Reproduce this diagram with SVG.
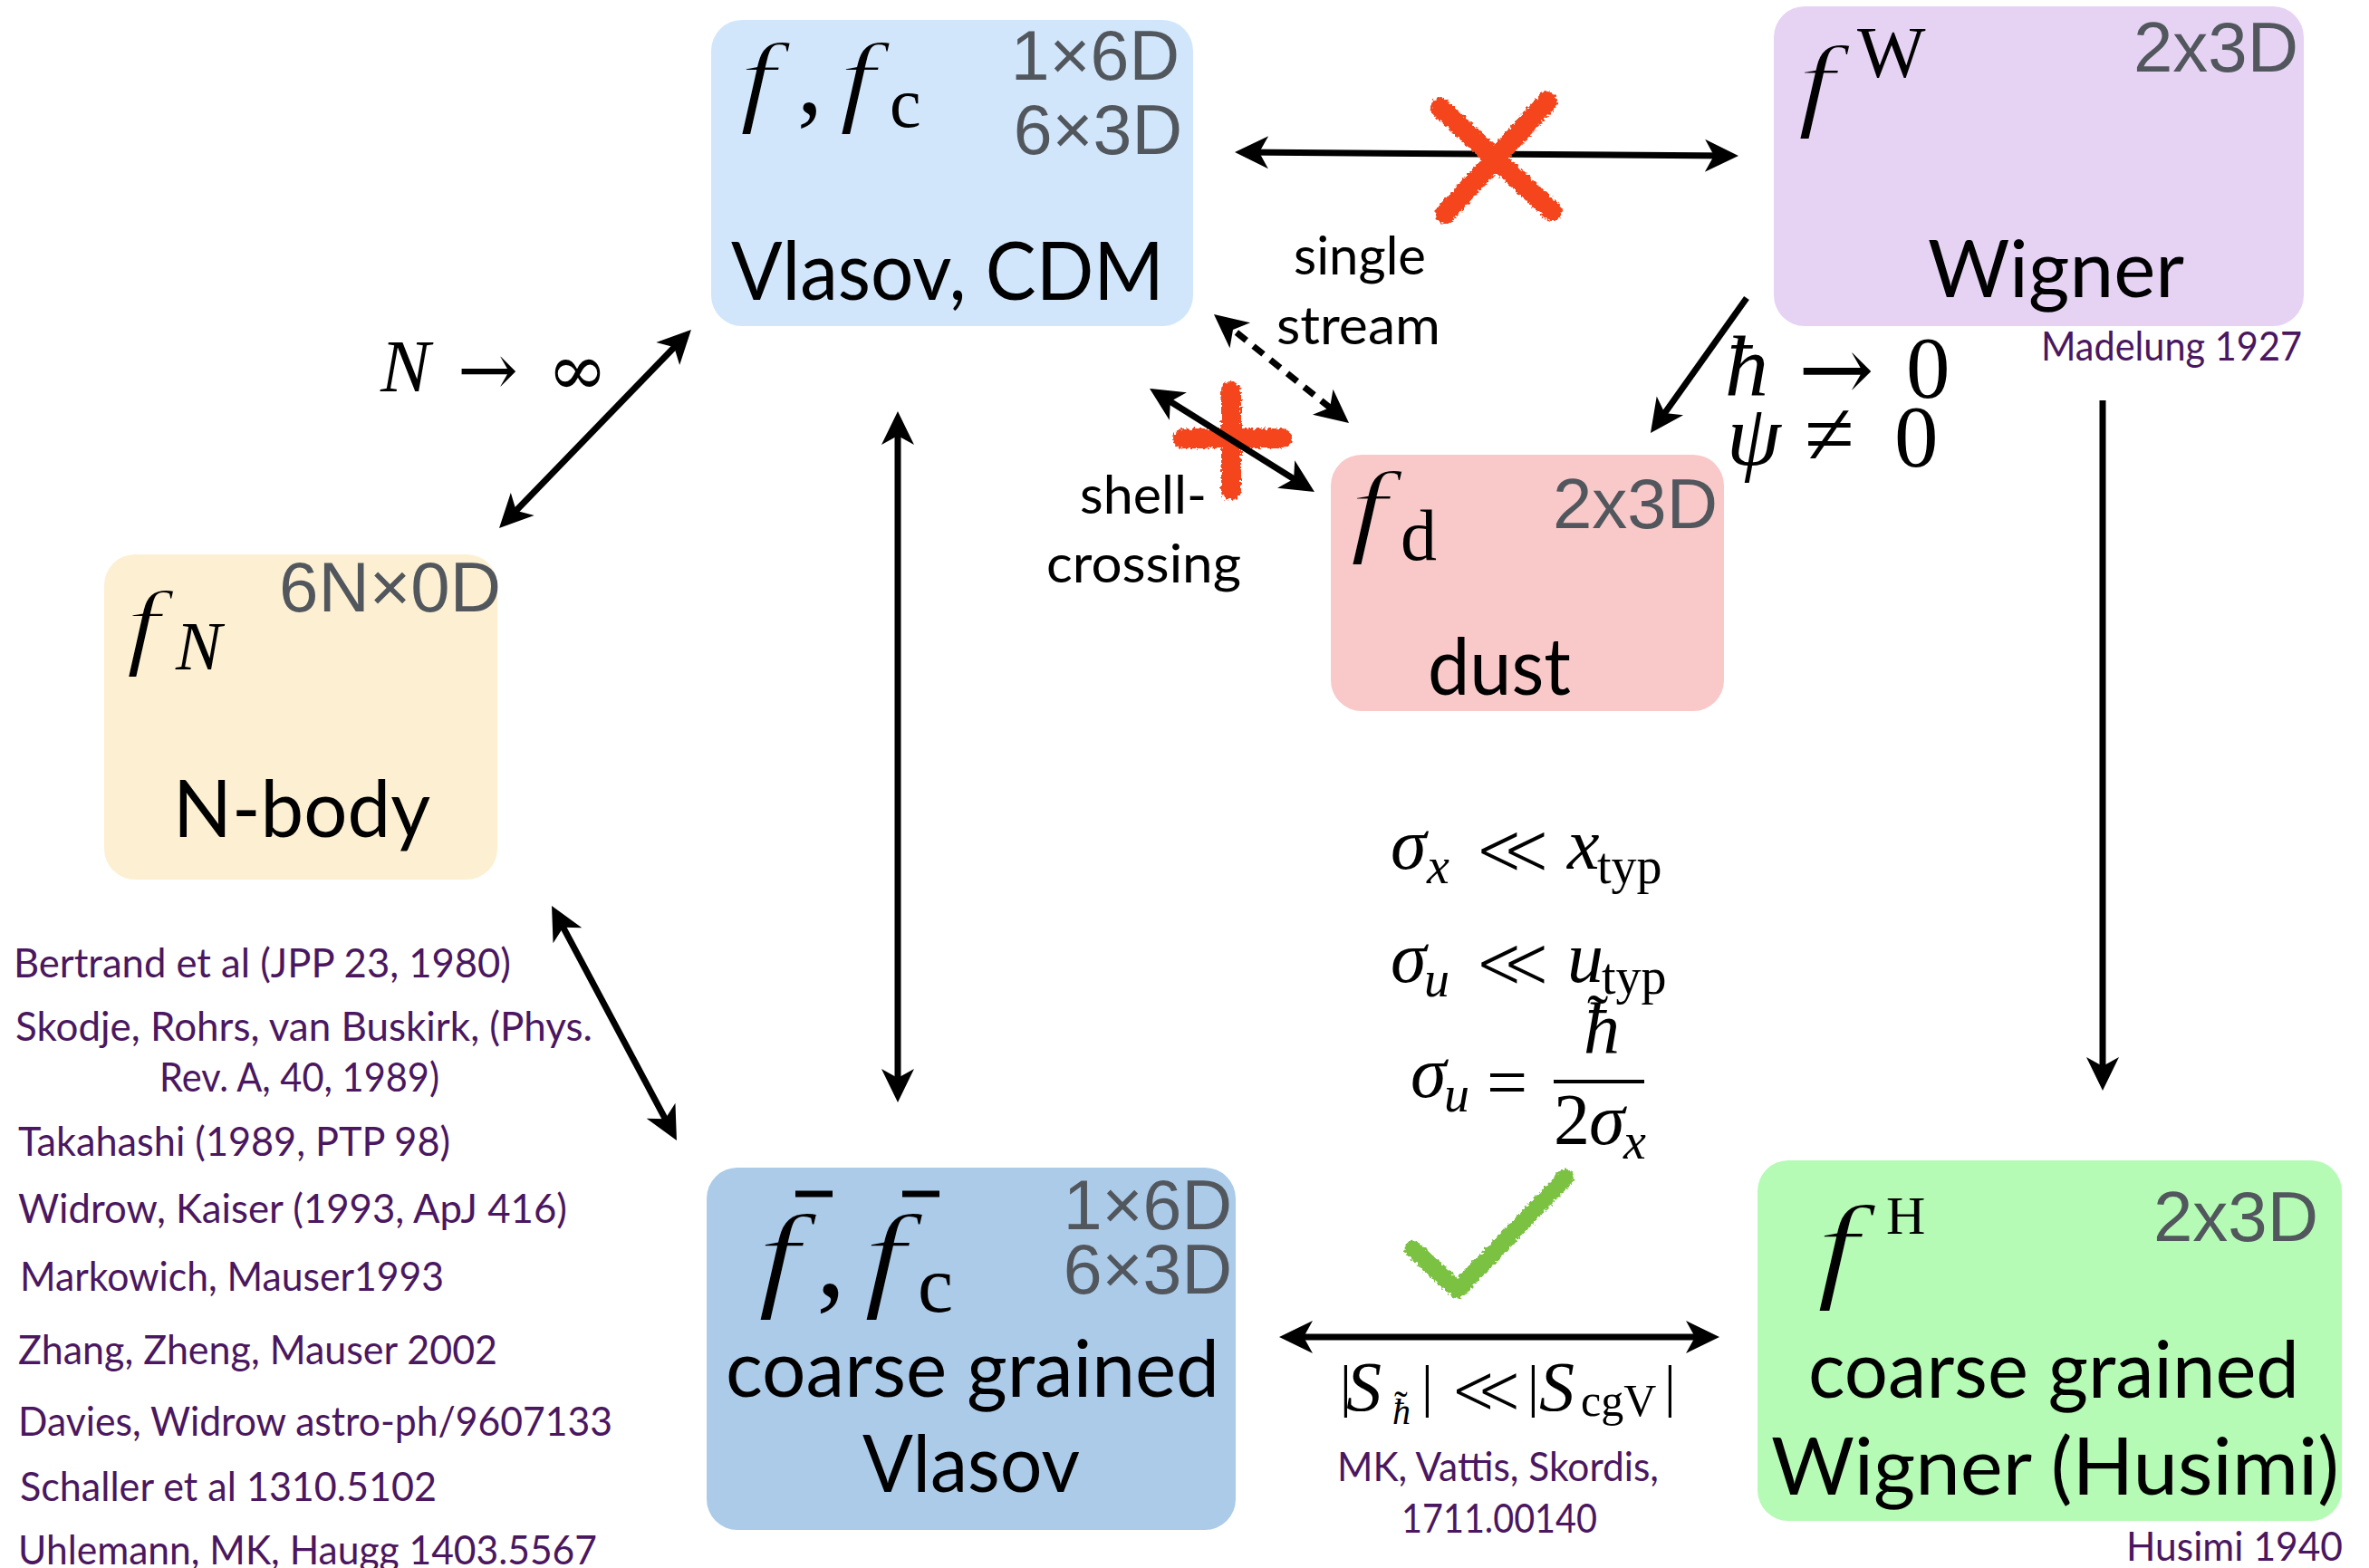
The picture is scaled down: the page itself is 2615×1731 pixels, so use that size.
<svg xmlns="http://www.w3.org/2000/svg" width="2615" height="1731" viewBox="0 0 2615 1731">
<style>
.lbl{font-family:Lato,"Open Sans","Noto Sans",sans-serif;fill:#000}
.dim{font-family:"Liberation Sans",Arial,sans-serif;fill:#52575d}
.ref{font-family:Lato,"Open Sans",sans-serif;fill:#4a1760;font-size:44px}
.m{font-family:"Liberation Serif","DejaVu Serif",serif;font-style:italic;fill:#000}
.r{font-family:"Liberation Serif","DejaVu Serif",serif;font-style:normal;fill:#000}
.sym{font-family:"DejaVu Serif","Liberation Serif",serif;font-style:normal;fill:#000}
.ll{font-family:"DejaVu Serif","Liberation Serif",serif;font-style:normal;fill:#000;stroke:#fff;stroke-width:3}
.ff{font-family:"Liberation Serif","DejaVu Serif",serif;font-style:italic;fill:#000;stroke-width:2.2}
.conn{stroke:#000;stroke-width:7;fill:none}
.red{stroke:#f4441b;stroke-width:22;stroke-linecap:round;fill:none}
</style>
<defs>
<marker id="ah" viewBox="-40 -20 42 40" markerWidth="42" markerHeight="40" refX="-8" refY="0" orient="auto-start-reverse" markerUnits="userSpaceOnUse">
<path d="M0,0 L-37,-18 L-27,0 L-37,18 Z" fill="#000"/>
</marker>
<filter id="rough" x="-20%" y="-20%" width="140%" height="140%">
<feTurbulence type="fractalNoise" baseFrequency="0.3" numOctaves="2" seed="4"/>
<feDisplacementMap in="SourceGraphic" scale="7" xChannelSelector="R" yChannelSelector="G"/>
</filter>
</defs>
<rect width="2615" height="1731" fill="#fff"/>

<!-- red plus (under the shell-crossing arrow) -->
<g id="mark-plus" filter="url(#rough)">
<line class="red" x1="1359" y1="432" x2="1359" y2="541"/>
<line class="red" x1="1306" y1="484" x2="1415" y2="484"/>
</g>

<!-- Nodes -->
<g id="node-vlasov">
<rect x="785" y="22" width="532" height="338" rx="34" fill="#d1e6fb"/>
<text class="ff" stroke="#d1e6fb" font-size="112" transform="translate(816 125) scale(1.3 1)">f</text>
<text class="r" font-size="112" x="880" y="125">,</text>
<text class="ff" stroke="#d1e6fb" font-size="112" transform="translate(926 125) scale(1.3 1)">f</text>
<text class="r" font-size="78" x="982" y="140">c</text>
<text class="dim" font-size="77" x="1302" y="88" text-anchor="end">1×6D</text>
<text class="dim" font-size="77" x="1305" y="170" text-anchor="end">6×3D</text>
<text class="lbl" font-size="90" x="807" y="331" textLength="478" lengthAdjust="spacingAndGlyphs">Vlasov, CDM</text>
</g>

<g id="node-wigner">
<rect x="1958" y="7" width="585" height="353" rx="34" fill="#e6d3f4"/>
<text class="ff" stroke="#e6d3f4" font-size="115" transform="translate(1984 130) scale(1.3 1)">f</text>
<text class="r" font-size="80" x="2050" y="85">W</text>
<text class="dim" font-size="78" x="2537" y="79" text-anchor="end">2x3D</text>
<text class="lbl" font-size="88" x="2128" y="328" textLength="283" lengthAdjust="spacingAndGlyphs">Wigner</text>
<text class="ref" x="2253" y="398" textLength="288" lengthAdjust="spacingAndGlyphs">Madelung 1927</text>
</g>

<g id="node-dust">
<rect x="1469" y="502" width="434" height="283" rx="34" fill="#f8c9c8"/>
<text class="ff" stroke="#f8c9c8" font-size="115" transform="translate(1490 600) scale(1.3 1)">f</text>
<text class="r" font-size="80" x="1546" y="618">d</text>
<text class="dim" font-size="78" x="1896" y="583" text-anchor="end">2x3D</text>
<text class="lbl" font-size="88" x="1576" y="767" textLength="158" lengthAdjust="spacingAndGlyphs">dust</text>
</g>

<g id="node-nbody">
<rect x="115" y="612" width="434" height="359" rx="34" fill="#fdf0d2"/>
<text class="ff" stroke="#fdf0d2" font-size="105" transform="translate(139 725) scale(1.3 1)">f</text>
<text class="m" font-size="76" x="194" y="739">N</text>
<text class="dim" font-size="78" x="308" y="675">6N×0D</text>
<text class="lbl" font-size="88" x="191" y="924" textLength="284" lengthAdjust="spacingAndGlyphs">N-body</text>
</g>

<g id="node-coarse-vlasov">
<rect x="780" y="1289" width="584" height="400" rx="34" fill="#abcbe9"/>
<text class="ff" stroke="#abcbe9" font-size="130" transform="translate(836 1430) scale(1.3 1)">f</text>
<line x1="878" y1="1318" x2="919" y2="1318" stroke="#000" stroke-width="7"/>
<text class="r" font-size="130" x="901" y="1430">,</text>
<text class="ff" stroke="#abcbe9" font-size="130" transform="translate(953 1430) scale(1.3 1)">f</text>
<line x1="996" y1="1318" x2="1037" y2="1318" stroke="#000" stroke-width="7"/>
<text class="r" font-size="88" x="1013" y="1448">c</text>
<text class="dim" font-size="77" x="1360" y="1357" text-anchor="end">1×6D</text>
<text class="dim" font-size="77" x="1360" y="1428" text-anchor="end">6×3D</text>
<text class="lbl" font-size="88" x="801" y="1542" textLength="545" lengthAdjust="spacingAndGlyphs">coarse grained</text>
<text class="lbl" font-size="88" x="952" y="1647" textLength="240" lengthAdjust="spacingAndGlyphs">Vlasov</text>
</g>

<g id="node-husimi">
<rect x="1940" y="1281" width="645" height="398" rx="34" fill="#b5fbb5"/>
<text class="ff" stroke="#b5fbb5" font-size="130" transform="translate(2005 1420) scale(1.3 1)">f</text>
<text class="r" font-size="60" x="2082" y="1362">H</text>
<text class="dim" font-size="78" x="2559" y="1370" text-anchor="end">2x3D</text>
<text class="lbl" font-size="88" x="1996" y="1543" textLength="542" lengthAdjust="spacingAndGlyphs">coarse grained</text>
<text class="lbl" font-size="88" x="1955" y="1650" textLength="627" lengthAdjust="spacingAndGlyphs">Wigner (Husimi)</text>
<text class="ref" x="2347" y="1723" textLength="239" lengthAdjust="spacingAndGlyphs">Husimi 1940</text>
</g>

<!-- Connectors -->
<g id="connectors">
<line class="conn" x1="1371" y1="168" x2="1911" y2="172" marker-start="url(#ah)" marker-end="url(#ah)"/>
<line class="conn" x1="757.4" y1="369.7" x2="556.6" y2="577.3" marker-start="url(#ah)" marker-end="url(#ah)"/>
<line class="conn" x1="991" y1="462" x2="991" y2="1209" marker-start="url(#ah)" marker-end="url(#ah)"/>
<line class="conn" x1="612.8" y1="1007.1" x2="743.2" y2="1251.9" marker-start="url(#ah)" marker-end="url(#ah)"/>
<line class="conn" x1="1346.2" y1="352" x2="1482.8" y2="462" stroke-dasharray="14 10" stroke-width="6" marker-start="url(#ah)" marker-end="url(#ah)"/>
<line class="conn" x1="1275.8" y1="433.2" x2="1444.2" y2="538.8" marker-start="url(#ah)" marker-end="url(#ah)"/>
<line class="conn" x1="1928" y1="329" x2="1826.6" y2="471.5" marker-end="url(#ah)"/>
<line class="conn" x1="2321" y1="442" x2="2321" y2="1196" marker-end="url(#ah)"/>
<line class="conn" x1="1420" y1="1476" x2="1890" y2="1476" marker-start="url(#ah)" marker-end="url(#ah)"/>
</g>

<!-- red cross over top arrow -->
<g id="mark-x" filter="url(#rough)">
<line class="red" x1="1590" y1="119" x2="1713" y2="233"/>
<line class="red" x1="1708" y1="112" x2="1595" y2="236"/>
</g>

<!-- green check -->
<g id="mark-check" filter="url(#rough)">
<polyline points="1560,1379 1609,1424 1728,1300" fill="none" stroke="#7cc242" stroke-width="19" stroke-linecap="round" stroke-linejoin="round"/>
</g>

<!-- connector labels -->
<g id="labels">
<text y="432"><tspan class="m" font-size="82" x="420">N</tspan><tspan class="sym" font-size="80" x="505" y="436">→</tspan><tspan class="sym" font-size="80" x="604" y="436">∞</tspan></text>

<text class="lbl" font-size="58" x="1428" y="303" textLength="146" lengthAdjust="spacingAndGlyphs">single</text>
<text class="lbl" font-size="58" x="1409" y="380" textLength="181" lengthAdjust="spacingAndGlyphs">stream</text>
<text class="lbl" font-size="58" x="1192" y="567" textLength="140" lengthAdjust="spacingAndGlyphs">shell-</text>
<text class="lbl" font-size="58" x="1155" y="643" textLength="215" lengthAdjust="spacingAndGlyphs">crossing</text>

<text y="437"><tspan class="m" font-size="96" x="1904">ħ</tspan><tspan class="sym" font-size="100" x="1985" y="442">→</tspan><tspan class="r" font-size="97" x="2104" y="439">0</tspan></text>
<text y="513"><tspan class="m" font-size="96" x="1906">ψ</tspan><tspan class="r" font-size="100" x="1992">≠</tspan><tspan class="r" font-size="97" x="2091" y="515">0</tspan></text>

<text y="959"><tspan class="m" font-size="80" x="1535">σ</tspan><tspan class="m" font-size="56" x="1575" y="975">x</tspan><tspan class="ll" font-size="80" x="1628" y="965">≪</tspan><tspan class="m" font-size="80" x="1730" y="959">x</tspan><tspan class="r" font-size="56" x="1763" y="975">typ</tspan></text>

<text y="1084"><tspan class="m" font-size="80" x="1535">σ</tspan><tspan class="m" font-size="56" x="1572" y="1100">u</tspan><tspan class="ll" font-size="80" x="1628" y="1090">≪</tspan><tspan class="m" font-size="80" x="1730" y="1084">u</tspan><tspan class="r" font-size="56" x="1768" y="1097">typ</tspan></text>

<text y="1211"><tspan class="m" font-size="80" x="1557">σ</tspan><tspan class="m" font-size="56" x="1594" y="1227">u</tspan><tspan class="r" font-size="80" x="1641" y="1222">=</tspan></text>
<text y="1162"><tspan class="m" font-size="80" x="1748">ħ</tspan><tspan class="r" font-size="70" x="1752" y="1146">˜</tspan></text>
<line x1="1715" y1="1194" x2="1815" y2="1194" stroke="#000" stroke-width="4"/>
<text y="1263"><tspan class="r" font-size="80" x="1715">2</tspan><tspan class="m" font-size="80" x="1754">σ</tspan><tspan class="m" font-size="56" x="1792" y="1279">x</tspan></text>

<text y="1557"><tspan class="r" font-size="64" x="1479" y="1551">|</tspan><tspan class="m" font-size="78" x="1486" y="1557">S</tspan><tspan class="m" font-size="40" x="1537" y="1572">ħ</tspan><tspan class="r" font-size="44" x="1539" y="1566">˜</tspan><tspan class="r" font-size="64" x="1569" y="1551">|</tspan><tspan class="ll" font-size="76" x="1601" y="1560">≪</tspan><tspan class="r" font-size="64" x="1686" y="1551">|</tspan><tspan class="m" font-size="78" x="1699" y="1557">S</tspan><tspan class="r" font-size="50" x="1745" y="1563">cgV</tspan><tspan class="r" font-size="64" x="1837" y="1551">|</tspan></text>

<text class="ref" x="1476" y="1635" textLength="355" lengthAdjust="spacingAndGlyphs">MK, Vattis, Skordis,</text>
<text class="ref" x="1547" y="1692" textLength="216" lengthAdjust="spacingAndGlyphs">1711.00140</text>
</g>

<!-- references -->
<g id="references">
<text class="ref" x="15" y="1079" textLength="549" lengthAdjust="spacingAndGlyphs">Bertrand et al (JPP 23, 1980)</text>
<text class="ref" x="17" y="1149" textLength="637" lengthAdjust="spacingAndGlyphs">Skodje, Rohrs, van Buskirk, (Phys.</text>
<text class="ref" x="176" y="1205" textLength="309" lengthAdjust="spacingAndGlyphs">Rev. A, 40, 1989)</text>
<text class="ref" x="20" y="1276" textLength="477" lengthAdjust="spacingAndGlyphs">Takahashi (1989, PTP 98)</text>
<text class="ref" x="20" y="1350" textLength="606" lengthAdjust="spacingAndGlyphs">Widrow, Kaiser (1993, ApJ 416)</text>
<text class="ref" x="22" y="1425" textLength="468" lengthAdjust="spacingAndGlyphs">Markowich, Mauser1993</text>
<text class="ref" x="20" y="1506" textLength="529" lengthAdjust="spacingAndGlyphs">Zhang, Zheng, Mauser 2002</text>
<text class="ref" x="20" y="1585" textLength="656" lengthAdjust="spacingAndGlyphs">Davies, Widrow astro-ph/9607133</text>
<text class="ref" x="22" y="1657" textLength="460" lengthAdjust="spacingAndGlyphs">Schaller et al 1310.5102</text>
<text class="ref" x="20" y="1727" textLength="639" lengthAdjust="spacingAndGlyphs">Uhlemann, MK, Haugg 1403.5567</text>
</g>
</svg>
